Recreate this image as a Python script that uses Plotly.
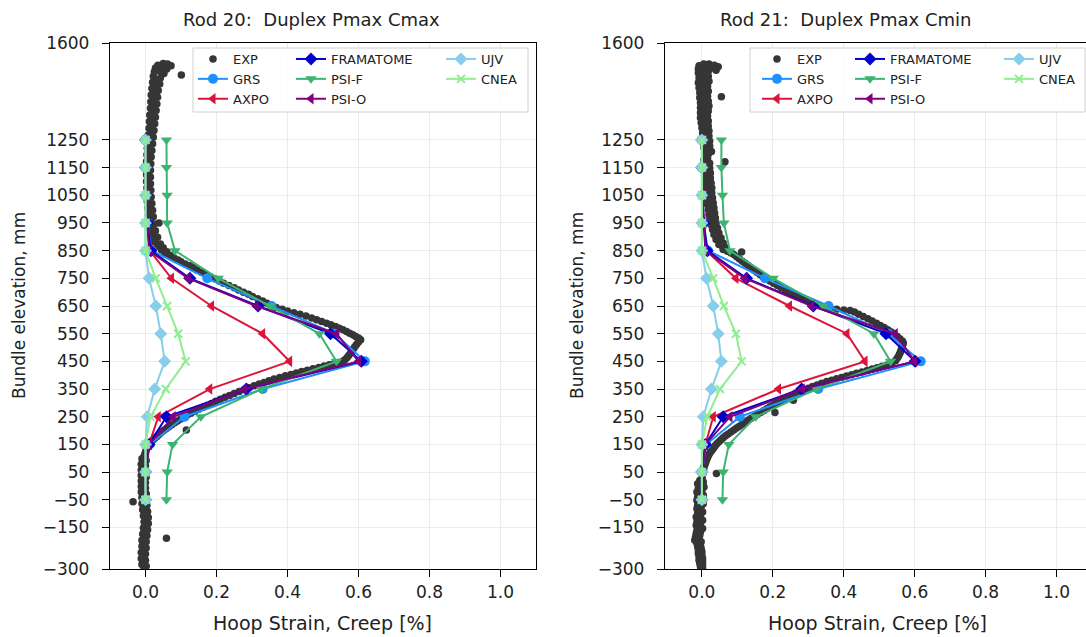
import plotly.graph_objects as go

W, H = 1086, 637

# ---------------- data ----------------
elev = [1250, 1150, 1050, 950, 850, 750, 650, 550, 450, 350, 250, 150, 50, -50]

rod20 = {
    "GRS":       [0.0, 0.0, 0.002, 0.005, 0.017, 0.174, 0.355, 0.533, 0.618, 0.330, 0.110, 0.012, 0.0, 0.0],
    "AXPO":      [0.0, 0.0, 0.002, 0.005, 0.012, 0.073, 0.186, 0.330, 0.406, 0.181, 0.036, 0.010, 0.0, 0.0],
    "FRAMATOME": [0.0, 0.0, 0.002, 0.005, 0.015, 0.125, 0.317, 0.521, 0.608, 0.284, 0.059, 0.010, 0.0, 0.0],
    "PSI-F":     [0.059, 0.059, 0.061, 0.061, 0.083, 0.205, 0.350, 0.490, 0.538, 0.327, 0.156, 0.076, 0.061, 0.059],
    "PSI-O":     [0.0, 0.0, 0.002, 0.005, 0.010, 0.120, 0.312, 0.538, 0.600, 0.280, 0.078, 0.010, 0.0, 0.0],
    "UJV":       [0.0, 0.0, 0.0, 0.0, 0.0, 0.010, 0.029, 0.043, 0.054, 0.026, 0.005, 0.0, 0.0, 0.0],
    "CNEA":      [0.0, 0.0, 0.0, 0.0, 0.0, 0.029, 0.061, 0.092, 0.113, 0.057, 0.014, 0.0, 0.0, 0.0],
}
rod21 = {
    "GRS":       [0.0, 0.0, 0.002, 0.005, 0.017, 0.178, 0.357, 0.525, 0.617, 0.328, 0.107, 0.012, 0.0, 0.0],
    "AXPO":      [0.0, 0.0, 0.002, 0.005, 0.012, 0.096, 0.247, 0.409, 0.460, 0.216, 0.032, 0.010, 0.0, 0.0],
    "FRAMATOME": [0.0, 0.0, 0.002, 0.005, 0.015, 0.126, 0.314, 0.519, 0.601, 0.281, 0.060, 0.010, 0.0, 0.0],
    "PSI-F":     [0.055, 0.055, 0.058, 0.062, 0.079, 0.201, 0.342, 0.485, 0.532, 0.323, 0.152, 0.076, 0.060, 0.058],
    "PSI-O":     [0.0, 0.0, 0.002, 0.005, 0.010, 0.121, 0.310, 0.545, 0.600, 0.283, 0.079, 0.010, 0.0, 0.0],
    "UJV":       [0.0, 0.0, 0.0, 0.0, 0.0, 0.013, 0.032, 0.046, 0.055, 0.027, 0.004, 0.0, 0.0, 0.0],
    "CNEA":      [0.0, 0.0, 0.0, 0.0, 0.0, 0.032, 0.062, 0.096, 0.112, 0.051, 0.015, 0.0, 0.0, 0.0],
}

exp20 = [
    (0.035, 1520), (0.050, 1526), (0.062, 1524), (0.072, 1518), (0.028, 1510), (0.045, 1512), (0.060, 1506),
    (0.101, 1484), (0.025, 1496), (0.040, 1498), (0.052, 1490),
    (0.022, 1480), (0.042, 1474), (0.030, 1466), (0.020, 1458), (0.040, 1452), (0.028, 1444), (0.018, 1436),
    (0.036, 1428), (0.026, 1420), (0.016, 1412), (0.034, 1404), (0.024, 1396), (0.015, 1388), (0.032, 1380),
    (0.022, 1372), (0.014, 1364), (0.030, 1356), (0.020, 1348), (0.012, 1340), (0.028, 1332), (0.018, 1324),
    (0.011, 1316), (0.026, 1308), (0.016, 1300), (0.010, 1292), (0.024, 1284), (0.015, 1276), (0.008, 1268),
    (0.022, 1260), (0.013, 1252), (0.007, 1244), (0.020, 1236), (0.011, 1228), (0.005, 1220), (0.018, 1212),
    (0.010, 1204), (0.004, 1196), (0.016, 1188), (0.009, 1180), (0.003, 1172), (0.015, 1164), (0.008, 1156),
    (0.003, 1148), (0.014, 1140), (0.008, 1132), (0.003, 1124), (0.014, 1116), (0.008, 1108), (0.003, 1100),
    (0.014, 1092), (0.008, 1084), (0.004, 1076), (0.015, 1068), (0.009, 1060), (0.004, 1052), (0.016, 1044),
    (0.010, 1036), (0.005, 1028), (0.018, 1020), (0.011, 1012), (0.006, 1004), (0.020, 996), (0.012, 988),
    (0.008, 980), (0.022, 972), (0.015, 964), (0.038, 950), (0.010, 956), (0.024, 946), (0.016, 938),
    (0.012, 930), (0.028, 922), (0.020, 914), (0.016, 906), (0.034, 898), (0.026, 890), (0.022, 882),
    (0.042, 874), (0.034, 866), (0.050, 860), (0.045, 852), (0.060, 846), (0.055, 838),
    (0.070, 832), (0.080, 824), (0.092, 816), (0.100, 810), (0.112, 802), (0.125, 795), (0.135, 788),
    (0.145, 780), (0.158, 772), (0.170, 764), (0.182, 756), (0.195, 748), (0.208, 740), (0.220, 732),
    (0.235, 724), (0.250, 716), (0.262, 708), (0.276, 700), (0.290, 692), (0.302, 684), (0.316, 676),
    (0.330, 668), (0.342, 660), (0.355, 652), (0.368, 645), (0.385, 638), (0.400, 632), (0.418, 626),
    (0.435, 620), (0.452, 614), (0.468, 607), (0.482, 600), (0.496, 594), (0.510, 588), (0.522, 582),
    (0.535, 576), (0.546, 570), (0.556, 564), (0.566, 558), (0.575, 552), (0.584, 546), (0.592, 540),
    (0.600, 534), (0.606, 528), (0.600, 520), (0.595, 512), (0.590, 504), (0.586, 496), (0.582, 488),
    (0.578, 480), (0.573, 472), (0.568, 464), (0.562, 456), (0.556, 450),
    (0.545, 446), (0.532, 442), (0.518, 438), (0.503, 433), (0.488, 428), (0.472, 423), (0.456, 418),
    (0.440, 413), (0.425, 408), (0.410, 403), (0.394, 398), (0.378, 392), (0.362, 386), (0.348, 380),
    (0.334, 374), (0.320, 368), (0.306, 362), (0.292, 355), (0.278, 348), (0.264, 341), (0.250, 334),
    (0.237, 327), (0.224, 320), (0.211, 313), (0.198, 306), (0.186, 298), (0.174, 291), (0.162, 284),
    (0.150, 277), (0.139, 270), (0.128, 263), (0.118, 256), (0.108, 249), (0.099, 242), (0.090, 235),
    (0.082, 228), (0.074, 221), (0.115, 202), (0.066, 214), (0.058, 207), (0.051, 200), (0.044, 193),
    (0.038, 186), (0.032, 179), (0.026, 172), (0.020, 165), (0.015, 158), (0.011, 151), (0.007, 144),
    (0.004, 137), (0.002, 130), (0.000, 122), (-0.002, 114), (-0.004, 106),
    (-0.010, 98), (0.002, 92), (-0.006, 86), (-0.012, 78), (0.000, 72), (-0.008, 66), (-0.012, 58),
    (0.000, 52), (-0.008, 46), (-0.012, 38), (0.002, 32), (-0.006, 26), (-0.012, 18), (0.000, 12),
    (-0.008, 6), (-0.012, -2), (0.000, -8), (-0.008, -14), (-0.012, -22), (0.002, -28), (-0.006, -34),
    (-0.035, -57), (-0.010, -42), (0.002, -48), (-0.006, -56), (-0.010, -64), (0.004, -70), (-0.004, -78),
    (-0.008, -86), (0.006, -92), (-0.002, -100), (-0.006, -108), (0.008, -114), (0.000, -122), (-0.004, -130),
    (0.008, -136), (0.000, -144), (-0.006, -152), (0.006, -158), (-0.002, -166), (-0.008, -174),
    (0.059, -189), (0.004, -180), (-0.004, -188), (-0.010, -196), (0.002, -202), (-0.006, -210),
    (-0.010, -218), (0.002, -224), (-0.006, -232), (-0.012, -240), (0.000, -246), (-0.008, -254),
    (-0.012, -262), (0.000, -268), (-0.008, -276), (-0.010, -284), (0.002, -290), (-0.004, -296),
]

exp21 = [
    (-0.008, 1518), (0.005, 1524), (0.020, 1524), (0.035, 1520), (0.046, 1514), (0.012, 1512), (0.028, 1510),
    (-0.010, 1506), (0.004, 1500), (0.018, 1498), (0.040, 1502),
    (-0.010, 1492), (0.004, 1486), (0.018, 1480), (-0.008, 1474), (0.006, 1468), (0.020, 1462), (-0.010, 1456),
    (0.004, 1450), (0.016, 1444), (-0.008, 1438), (0.006, 1432), (0.018, 1426), (-0.006, 1420), (0.008, 1414),
    (0.055, 1406), (0.016, 1408), (-0.006, 1402), (0.006, 1396), (0.018, 1390), (-0.004, 1384), (0.008, 1378),
    (0.020, 1372), (-0.004, 1366), (0.008, 1360), (0.018, 1354), (-0.004, 1348), (0.006, 1342), (0.016, 1336),
    (-0.004, 1330), (0.006, 1324), (0.018, 1318), (-0.002, 1312), (0.008, 1306), (0.018, 1300), (0.000, 1294),
    (0.010, 1288), (0.020, 1282), (0.002, 1276), (0.012, 1270), (0.020, 1264), (0.004, 1258), (0.014, 1252),
    (0.022, 1246), (0.004, 1240), (0.014, 1234), (0.022, 1228), (0.006, 1222), (0.016, 1216), (0.027, 1208),
    (0.008, 1204), (0.018, 1198), (0.008, 1190), (0.016, 1184), (0.065, 1171), (0.006, 1178), (0.014, 1172),
    (0.022, 1166), (0.006, 1160), (0.014, 1154), (0.022, 1148), (0.006, 1142), (0.014, 1136), (0.024, 1130),
    (0.008, 1124), (0.016, 1118), (0.024, 1112), (0.008, 1106), (0.016, 1100), (0.026, 1094), (0.010, 1088),
    (0.018, 1082), (0.028, 1076), (0.010, 1070), (0.018, 1064), (0.028, 1058), (0.012, 1052), (0.020, 1046),
    (0.030, 1040), (0.014, 1034), (0.022, 1028), (0.032, 1022), (0.016, 1016), (0.024, 1010), (0.034, 1004),
    (0.018, 998), (0.026, 992), (0.036, 986), (0.020, 980), (0.028, 974), (0.038, 968), (0.022, 962),
    (0.030, 956), (0.040, 950), (0.025, 944), (0.034, 938), (0.044, 932), (0.030, 926), (0.038, 920),
    (0.048, 914), (0.034, 908), (0.044, 902), (0.054, 896), (0.040, 890), (0.050, 884), (0.060, 878),
    (0.048, 872), (0.058, 866), (0.068, 860), (0.060, 854), (0.072, 848), (0.112, 845), (0.082, 842),
    (0.090, 836), (0.098, 828), (0.106, 820), (0.114, 812), (0.122, 804), (0.130, 796), (0.138, 788),
    (0.146, 780), (0.155, 772), (0.164, 764), (0.172, 756), (0.182, 748), (0.192, 740), (0.202, 732),
    (0.213, 724), (0.224, 716), (0.235, 708), (0.246, 700), (0.258, 692), (0.270, 684), (0.284, 676),
    (0.298, 668), (0.312, 660), (0.328, 653), (0.345, 647), (0.362, 642), (0.380, 638), (0.400, 636),
    (0.418, 634), (0.430, 628), (0.442, 620), (0.455, 612), (0.468, 604), (0.480, 596), (0.492, 588),
    (0.503, 580), (0.514, 572), (0.524, 564), (0.534, 556), (0.543, 548), (0.551, 540), (0.558, 532),
    (0.565, 524), (0.568, 516), (0.566, 508), (0.564, 500), (0.562, 492), (0.560, 484), (0.557, 476),
    (0.554, 468), (0.550, 460), (0.546, 452),
    (0.535, 442), (0.522, 437), (0.508, 432), (0.494, 427), (0.480, 422), (0.466, 417), (0.451, 412),
    (0.436, 407), (0.422, 402), (0.408, 397), (0.394, 392), (0.380, 387), (0.366, 382), (0.352, 377),
    (0.338, 371), (0.325, 365), (0.312, 359), (0.300, 353), (0.288, 347), (0.276, 341), (0.264, 335),
    (0.253, 328), (0.258, 310), (0.242, 321), (0.232, 314), (0.222, 307), (0.212, 300), (0.202, 293),
    (0.192, 286), (0.183, 279), (0.174, 272), (0.206, 265), (0.165, 265), (0.156, 258), (0.147, 251),
    (0.138, 244), (0.130, 237), (0.122, 230), (0.114, 223), (0.106, 216), (0.098, 209), (0.090, 202),
    (0.082, 195), (0.074, 188), (0.067, 181), (0.060, 174), (0.054, 167), (0.048, 160), (0.043, 153),
    (0.038, 146), (0.034, 139), (0.030, 132), (0.026, 125), (0.022, 118), (0.019, 111), (0.016, 104),
    (0.014, 97), (0.012, 90), (0.010, 83), (0.008, 76), (0.006, 69), (0.041, 45), (0.005, 62),
    (0.004, 55), (0.003, 48), (0.002, 41), (0.001, 34), (0.000, 27),
    (-0.006, 20), (0.004, 14), (-0.012, 8), (-0.002, 2), (0.006, -4), (-0.010, -10), (0.000, -16),
    (-0.014, -22), (-0.004, -28), (0.004, -34), (-0.012, -40), (-0.002, -46), (-0.014, -52), (-0.004, -58),
    (0.004, -64), (-0.012, -70), (-0.002, -76), (-0.014, -82), (-0.004, -88), (0.002, -94), (-0.012, -100),
    (-0.004, -106), (-0.016, -112), (-0.006, -118), (0.002, -124), (-0.014, -130), (-0.004, -136),
    (-0.016, -142), (-0.006, -148), (0.002, -154), (-0.014, -160), (-0.004, -166), (-0.016, -172),
    (-0.006, -178), (-0.018, -184), (-0.020, -196), (-0.008, -190), (-0.002, -202), (-0.014, -208),
    (-0.004, -214), (-0.012, -220), (-0.002, -226), (-0.010, -232), (0.000, -238), (-0.010, -244),
    (0.000, -250), (-0.008, -256), (0.002, -262), (-0.008, -268), (0.002, -274), (-0.006, -280),
    (0.002, -286), (-0.004, -292), (0.002, -297),
]

models = ["GRS", "AXPO", "FRAMATOME", "PSI-F", "PSI-O", "UJV", "CNEA"]
colors = {"GRS": "#1E90FF", "AXPO": "#DC143C", "FRAMATOME": "#0000CD", "PSI-F": "#3CB371",
          "PSI-O": "#800080", "UJV": "#87CEEB", "CNEA": "#90EE90"}
symbols = {"GRS": "circle", "AXPO": "triangle-left", "FRAMATOME": "diamond", "PSI-F": "triangle-down",
           "PSI-O": "triangle-left", "UJV": "diamond", "CNEA": "x-thin-open"}

y_ticks = [-300, -150, -50, 50, 150, 250, 350, 450, 550, 650, 750, 850, 950, 1050, 1150, 1250, 1600]
y_ticktext = [str(v).replace("-", "\u2212") for v in y_ticks]
x_ticks = [0.0, 0.2, 0.4, 0.6, 0.8, 1.0]
x_ticktext = ["0.0", "0.2", "0.4", "0.6", "0.8", "1.0"]

titles = ["Rod 20:  Duplex Pmax Cmax", "Rod 21:  Duplex Pmax Cmin"]
x_title = "Hoop Strain, Creep [%]"
y_title = "Bundle elevation, mm"

# ---------------- figure ----------------
FONT = "DejaVu Sans"
TXT = "#222222"
fig = go.Figure()

# legend column assignment (column-major like a 3-column legend)
col_of = {"EXP": 0, "GRS": 0, "AXPO": 0, "FRAMATOME": 1, "PSI-F": 1, "PSI-O": 1, "UJV": 2, "CNEA": 2}
legend_ids = ["legend", "legend2", "legend3", "legend4", "legend5", "legend6"]


def add_panel(p, exp_pts, data):
    xa = "x" if p == 0 else "x2"
    ya = "y" if p == 0 else "y2"
    ex = [pt[0] for pt in exp_pts]
    ey = [pt[1] for pt in exp_pts]
    fig.add_trace(go.Scatter(
        x=ex, y=ey, mode="markers", name="EXP",
        marker=dict(color="#363636", size=7.5),
        xaxis=xa, yaxis=ya, legend=legend_ids[p * 3 + col_of["EXP"]], legendrank=1))
    for i, m in enumerate(models):
        mk = dict(color=colors[m], size=10, symbol=symbols[m])
        if m == "CNEA":
            mk = dict(color=colors[m], size=8, symbol=symbols[m], line=dict(color=colors[m], width=2))
        fig.add_trace(go.Scatter(
            x=data[m], y=elev, mode="lines+markers", name=m,
            line=dict(color=colors[m], width=2), marker=mk,
            xaxis=xa, yaxis=ya, legend=legend_ids[p * 3 + col_of[m]], legendrank=i + 2))


add_panel(0, exp20, rod20)
add_panel(1, exp21, rod21)

ydom = [(H - 569) / H, (H - 43) / H]
axis_common = dict(showline=True, linecolor="black", linewidth=1.3, ticks="outside", ticklen=7,
                   tickwidth=1.2, tickcolor="black", showgrid=True, gridcolor="#ebebeb", gridwidth=1,
                   zeroline=False, tickfont=dict(family=FONT, size=17, color=TXT))

fig.update_layout(
    width=W, height=H, autosize=False,
    margin=dict(l=0, r=0, t=0, b=0, autoexpand=False),
    paper_bgcolor="white", plot_bgcolor="white",
    showlegend=True,
    font=dict(family=FONT, color=TXT),
    xaxis=dict(domain=[110 / W, 536 / W], range=[-0.1, 1.1], tickvals=x_ticks, ticktext=x_ticktext,
               mirror=True, anchor="y", ticklabelstandoff=0, **axis_common),
    yaxis=dict(domain=ydom, range=[-300, 1600], tickvals=y_ticks, ticktext=y_ticktext,
               mirror=True, anchor="x", ticklabelstandoff=9, **axis_common),
    xaxis2=dict(domain=[665 / W, 1.0], range=[-0.104, 1.083], tickvals=x_ticks, ticktext=x_ticktext,
                mirror=True, anchor="y2", ticklabelstandoff=0, **axis_common),
    yaxis2=dict(domain=ydom, range=[-300, 1600], tickvals=y_ticks, ticktext=y_ticktext,
                mirror=False, anchor="x2", ticklabelstandoff=9, **axis_common),
)

# legends: three columns per panel
leg_x = [193, 291, 441, 757, 850, 999]
leg_top = 44
for k, lx in enumerate(leg_x):
    fig.layout[legend_ids[k]] = dict(x=lx / W, y=1 - leg_top / H, xanchor="left", yanchor="top",
                                     bgcolor="rgba(0,0,0,0)", borderwidth=0, orientation="v",
                                     font=dict(family=FONT, size=13, color=TXT),
                                     tracegroupgap=0, itemclick=False)

# legend frames
for (x0, x1) in [(193, 528), (750, 1085)]:
    fig.add_shape(type="rect", xref="paper", yref="paper", x0=x0 / W, x1=x1 / W,
                  y0=1 - 112 / H, y1=1 - 48 / H, line=dict(color="#d0d0d0", width=1),
                  fillcolor="rgba(255,255,255,0.85)", layer="above")

ann = []
for t, cx in zip(titles, [311, 845]):
    ann.append(dict(text=t, x=cx / W, y=1 - 20 / H, xref="paper", yref="paper", showarrow=False,
                    xanchor="center", yanchor="middle", font=dict(family=FONT, size=18, color=TXT)))
for cx in [322.5, 877.5]:
    ann.append(dict(text=x_title, x=cx / W, y=1 - 623 / H, xref="paper", yref="paper", showarrow=False,
                    xanchor="center", yanchor="middle", font=dict(family=FONT, size=19, color=TXT)))
for cx in [19, 577]:
    ann.append(dict(text=y_title, x=cx / W, y=1 - 306 / H, xref="paper", yref="paper", showarrow=False,
                    textangle=-90, xanchor="center", yanchor="middle",
                    font=dict(family=FONT, size=17, color=TXT)))
fig.update_layout(annotations=ann)

fig.write_html("out.html")
